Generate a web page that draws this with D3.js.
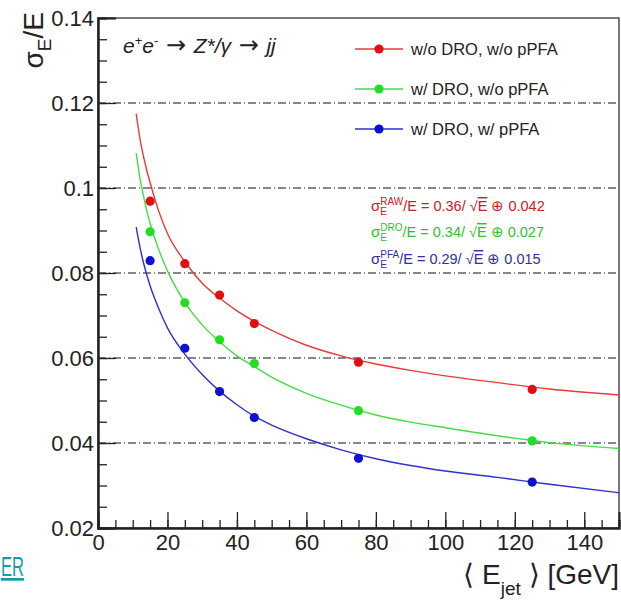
<!DOCTYPE html>
<html lang="en">
<head>
<meta charset="UTF-8">
<script src="https://cdnjs.cloudflare.com/ajax/libs/d3/7.8.4/d3.min.js"></script>
<title>Jet energy resolution</title>
<style>
  body { margin: 0; background: #fff; }
  text { font-family: "Liberation Sans", Arial, sans-serif; }
</style>
</head>
<body>
<script>
// measured points
const energies = [15, 25, 35, 45, 75, 125]
const rawRes = [0.0969, 0.0822, 0.0748, 0.0681, 0.0590, 0.0526]
const droRes = [0.0897, 0.0730, 0.0643, 0.0587, 0.0476, 0.0405]
const pfaRes = [0.0829, 0.0623, 0.0521, 0.0460, 0.0364, 0.0308]

// fit curves
const curveE = [11, 12, 13, 14, 15, 17.5, 20, 25, 30, 35, 40, 45, 50, 60, 70, 80, 90, 100, 115, 130, 150]
const rawFit = [0.1175, 0.1120, 0.1078, 0.1043, 0.1013, 0.0945, 0.0893, 0.0827, 0.0776, 0.0741, 0.0711, 0.0686, 0.0665, 0.0630, 0.0605, 0.0586, 0.0571, 0.0558, 0.0542, 0.0527, 0.0513]
const droFit = [0.1082, 0.1027, 0.0985, 0.0948, 0.0917, 0.0855, 0.0805, 0.0731, 0.0678, 0.0638, 0.0605, 0.0580, 0.0555, 0.0517, 0.0489, 0.0466, 0.0449, 0.0436, 0.0417, 0.0401, 0.0387]
const pfaFit = [0.0908, 0.0864, 0.0827, 0.0797, 0.0770, 0.0716, 0.0671, 0.0609, 0.0561, 0.0522, 0.0490, 0.0463, 0.0442, 0.0410, 0.0384, 0.0363, 0.0347, 0.0334, 0.0319, 0.0303, 0.0283]

const seriesNames = ["w/o DRO, w/o pPFA", "w/ DRO, w/o pPFA", "w/ DRO, w/ pPFA"]
const fitLabels = [
  ["RAW", "0.36", "0.042"],
  ["DRO", "0.34", "0.027"],
  ["PFA", "0.29", "0.015"]
]
const xTicks = [0, 20, 40, 60, 80, 100, 120, 140]
const yTicks = [0.02, 0.04, 0.06, 0.08, 0.1, 0.12, 0.14]

const dotColors = ["#e01010", "#22dd22", "#1010d0"]
const lineColors = ["#e83a3a", "#44dd44", "#3030cc"]
const textColors = ["#c8202a", "#30c030", "#3030a0"]

const W = 621, H = 601
const svg = d3.select("body").append("svg")
  .attr("width", W)
  .attr("height", H)

const x = d3.scaleLinear().domain([0, 150]).range([98, 619])
const y = d3.scaleLinear().domain([0.02, 0.14]).range([528, 18])

// dash-dot grid
svg.append("g").selectAll("line")
  .data(yTicks.filter(d => d > 0.02 && d < 0.14))
  .enter().append("line")
  .attr("x1", x(0)).attr("x2", x(150))
  .attr("y1", d => y(d)).attr("y2", d => y(d))
  .attr("stroke", "#111")
  .attr("stroke-width", 1)
  .attr("stroke-dasharray", "8,3,1,3")

// frame
svg.append("rect")
  .attr("x", x(0)).attr("y", y(0.14))
  .attr("width", x(150) - x(0)).attr("height", y(0.02) - y(0.14))
  .attr("fill", "none").attr("stroke", "#222").attr("stroke-width", 1.2)

// x axis
let xMinor = svg.append("g")
  .attr("transform", `translate(0,${y(0.02)})`)
  .call(d3.axisBottom(x).tickValues(d3.range(0, 151, 5)).tickSize(-8).tickFormat(""))
let xMajor = svg.append("g")
  .attr("transform", `translate(0,${y(0.02)})`)
  .call(d3.axisBottom(x).tickValues(xTicks).tickSize(-16).tickPadding(6))

// y axis
let yMinor = svg.append("g")
  .attr("transform", `translate(${x(0)},0)`)
  .call(d3.axisLeft(y).tickValues(d3.range(0.02, 0.1401, 0.005)).tickSize(-9).tickFormat(""))
let yMajor = svg.append("g")
  .attr("transform", `translate(${x(0)},0)`)
  .call(d3.axisLeft(y).tickValues(yTicks).tickSize(-18).tickPadding(4).tickFormat(d => String(+d.toFixed(2))))

svg.selectAll(".domain").attr("stroke", "#222").attr("stroke-width", 2)
svg.selectAll(".tick line").attr("stroke", "#222").attr("stroke-width", 1.3)
xMajor.selectAll("text").attr("font-size", 22).attr("fill", "#222")
  .attr("font-family", "Liberation Sans, Arial, sans-serif")
yMajor.selectAll("text").attr("font-size", 22).attr("fill", "#222")
  .attr("font-family", "Liberation Sans, Arial, sans-serif")

// fit curves
const fits = [rawFit, droFit, pfaFit]
const points = [rawRes, droRes, pfaRes]
const line = d3.line()
  .x(d => x(d[0]))
  .y(d => y(d[1]))
  .curve(d3.curveMonotoneX)

fits.forEach((f, i) => {
  svg.append("path")
    .datum(curveE.map((e, k) => [e, f[k]]))
    .attr("d", line)
    .attr("fill", "none")
    .attr("stroke", lineColors[i])
    .attr("stroke-width", 1.4)
})

points.forEach((p, i) => {
  svg.append("g").selectAll("circle")
    .data(energies.map((e, k) => [e, p[k]]))
    .enter().append("circle")
    .attr("cx", d => x(d[0]))
    .attr("cy", d => y(d[1]))
    .attr("r", 4.6)
    .attr("fill", dotColors[i])
})

// process label
let proc = svg.append("text")
  .attr("x", 123).attr("y", 53)
  .attr("font-size", 21).attr("fill", "#222")
proc.append("tspan").attr("font-style", "italic").text("e")
proc.append("tspan").attr("font-size", 13).attr("dy", -8).text("+")
proc.append("tspan").attr("font-style", "italic").attr("dy", 8).text("e")
proc.append("tspan").attr("font-size", 13).attr("dy", -8).text("-")
proc.append("tspan").attr("dy", 8).attr("font-family", "DejaVu Sans").attr("font-size", 24).text(" \u2192 ")
proc.append("tspan").attr("font-style", "italic").text("Z*/\u03b3")
proc.append("tspan").attr("font-family", "DejaVu Sans").attr("font-size", 24).text(" \u2192 ")
proc.append("tspan").attr("font-style", "italic").text("jj")

// legend
const legY = [49, 89, 129]
seriesNames.forEach((name, i) => {
  let g = svg.append("g")
  g.append("line")
    .attr("x1", 355).attr("x2", 403)
    .attr("y1", legY[i]).attr("y2", legY[i])
    .attr("stroke", lineColors[i]).attr("stroke-width", 1.4)
  g.append("circle")
    .attr("cx", 379).attr("cy", legY[i]).attr("r", 4.6)
    .attr("fill", dotColors[i])
  g.append("text")
    .attr("x", 411).attr("y", legY[i] + 6)
    .attr("font-size", 16.5).attr("fill", "#222")
    .text(name)
})

// fit formulas
const fY = [211, 237, 264]
fitLabels.forEach((f, i) => {
  let x0 = 371
  let g = svg.append("g").attr("fill", textColors[i])
  let s = g.append("text").attr("x", x0).attr("y", fY[i]).attr("font-size", 15).text("\u03c3")
  let sw = s.node().getComputedTextLength()
  let sup = g.append("text").attr("x", x0 + sw).attr("y", fY[i] - 6).attr("font-size", 10).text(f[0])
  g.append("text").attr("x", x0 + sw).attr("y", fY[i] + 4).attr("font-size", 10).text("E")
  let supW = sup.node().getComputedTextLength()
  let t = g.append("text").attr("x", x0 + sw + supW).attr("y", fY[i]).attr("font-size", 14.5)
  t.append("tspan").text(`/E = ${f[1]}/ \u221a`)
  t.append("tspan").style("text-decoration", "overline").text("E")
  t.append("tspan").text(` \u2295 ${f[2]}`)
})

// axis titles
let xt = svg.append("text")
  .attr("x", 619).attr("y", 584)
  .attr("text-anchor", "end")
  .attr("font-size", 28).attr("fill", "#222")
xt.append("tspan").text("\u27e8 E")
xt.append("tspan").attr("font-size", 19).attr("dy", 11).text("jet")
xt.append("tspan").attr("dy", -11).text(" \u27e9 [GeV]")

let yt = svg.append("text")
  .attr("transform", "translate(43,12) rotate(-90)")
  .attr("text-anchor", "end")
  .attr("font-size", 28).attr("fill", "#222")
yt.append("tspan").text("\u03c3")
yt.append("tspan").attr("font-size", 19).attr("dy", 8).text("E")
yt.append("tspan").attr("dy", -8).text("/E")

// stray link text at bottom left
svg.append("text")
  .attr("x", 1).attr("y", 576)
  .attr("font-size", 27).attr("fill", "#1a9aa8")
  .attr("textLength", 23).attr("lengthAdjust", "spacingAndGlyphs")
  .style("text-decoration", "underline")
  .text("ER")
</script>
</body>
</html>
